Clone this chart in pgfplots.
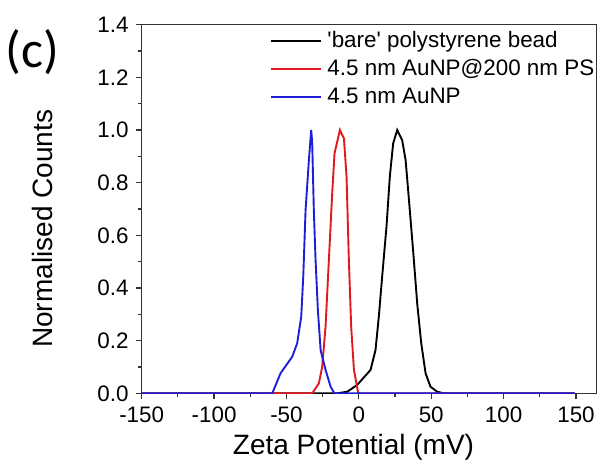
\documentclass[border=0pt]{standalone}
\usepackage{pgfplots}
\pgfplotsset{compat=1.18}
\usepackage{fontspec}
\setmainfont{Liberation Sans}
\newfontfamily\calibri{Carlito}
\definecolor{cred}{RGB}{225,25,30}
\definecolor{cblue}{RGB}{30,30,215}
\begin{document}
\begin{tikzpicture}
\begin{axis}[
  scale only axis,
  width=227.5pt, height=184.3pt,
  xmin=-150, xmax=164.3, ymin=0, ymax=1.4,
  xtick={-150,-100,...,150},
  minor xtick={-125,-75,...,125},
  ytick={0,0.2,...,1.4},
  minor ytick={0.1,0.3,...,1.3},
  tick pos=left,
  tick align=outside,
  major tick length=3pt,
  minor tick length=1.75pt,
  axis line style={black!80, line width=0.6pt},
  every tick/.style={black!80, line width=0.6pt},
  /pgf/number format/assume math mode=true,
  tick label style={font=\fontsize{11.2}{13}\selectfont},
  yticklabel style={/pgf/number format/.cd, fixed, fixed zerofill, precision=1},
  xticklabel style={/pgf/number format/.cd, fixed, precision=0},
  scaled ticks=false,
  xlabel={Zeta Potential (mV)},
  ylabel={Normalised Counts},
  label style={font=\fontsize{14}{16}\selectfont},
  xlabel style={at={(axis description cs:0.4655,0)}, yshift=-26.9pt, anchor=center},
  ylabel style={at={(axis description cs:-0.2191,0.446)}, anchor=center},
  legend style={draw=none, fill=none, at={(axis description cs:0.276,0.997)}, anchor=north west,
    font=\fontsize{11.2}{13.5}\selectfont, row sep=1.5pt, inner sep=1pt,
    nodes={inner sep=1.5pt}},
  legend cell align=left,
  legend image code/.code={\draw[mark repeat=2,mark phase=2, line width=0.9pt] plot coordinates {(0pt,0pt) (12pt,0pt) (25pt,0pt)};},
]
\addplot[black, line width=0.95pt] coordinates {
(-150,0) (-14.9,0) (-8.0,0.006) (-1.1,0.032) (8.1,0.089) (11.5,0.164) (13.8,0.291)
(16.1,0.443) (19.1,0.633) (21.4,0.823) (23.7,0.949) (26.5,1.0) (29.9,0.962)
(32.3,0.886) (35.2,0.696) (38.0,0.506) (40.3,0.342) (43.1,0.19) (46.1,0.076)
(49.5,0.025) (54.1,0.006) (58.7,0) (149,0)
};
\addlegendentry{\hspace{1.5pt}\textquotesingle bare\textquotesingle\ polystyrene bead}
\addplot[cred, line width=0.95pt] coordinates {
(-150,0) (-32.2,0) (-27.6,0.038) (-25.3,0.101) (-23.0,0.253) (-20.7,0.506)
(-18.4,0.76) (-16.8,0.911) (-13.1,1.0) (-10.3,0.968) (-8.5,0.823) (-6.9,0.506)
(-5.3,0.253) (-3.4,0.089) (-0.4,0) (149,0)
};
\addlegendentry{\hspace{1.5pt}4.5 nm AuNP@200 nm PS}
\addplot[cblue, line width=0.95pt] coordinates {
(-150,0) (-59.8,0) (-54.1,0.076) (-46.0,0.139) (-42.6,0.19) (-39.8,0.291)
(-38.4,0.443) (-36.8,0.696) (-34.5,0.886) (-32.9,1.0) (-32.2,0.949) (-31.1,0.696)
(-29.9,0.506) (-28.3,0.316) (-26.4,0.164) (-23.0,0.089) (-19.5,0.025) (-17.2,0.003)
(-16.5,0) (149,0)
};
\addlegendentry{\hspace{1.5pt}4.5 nm AuNP}
\coordinate (SW) at (rel axis cs:0,0);
\end{axis}
\node[font=\calibri\fontsize{26}{30}\selectfont, anchor=center] at ([shift={(-54.6pt,170.65pt)}]SW) {(c)};
\pgfresetboundingbox
\path[use as bounding box] ([shift={(-70.85pt,-38.35pt)}]SW) rectangle ++(300.5pt,235pt);
\end{tikzpicture}
\end{document}
